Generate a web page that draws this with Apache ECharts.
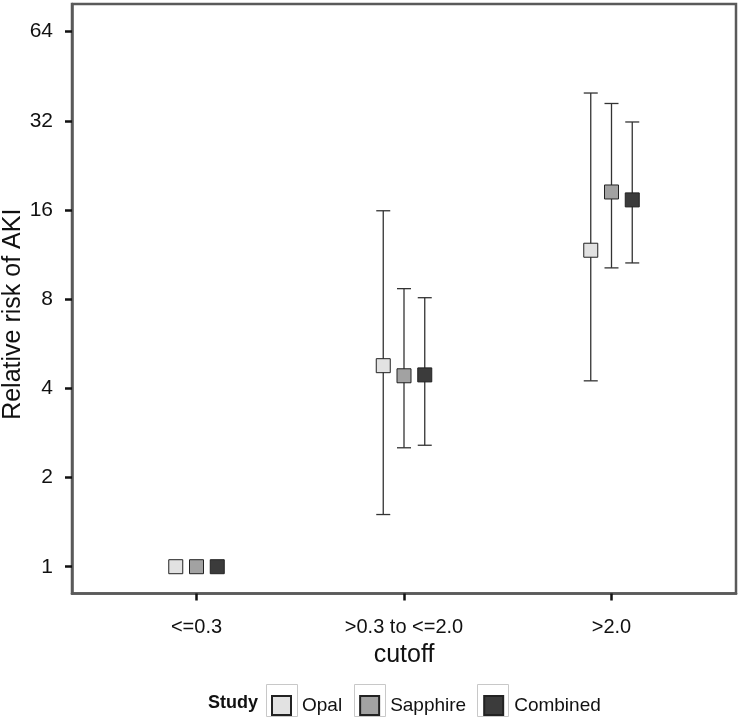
<!DOCTYPE html>
<html>
<head>
<meta charset="utf-8">
<title>Relative risk of AKI by cutoff</title>
<script src="https://cdn.jsdelivr.net/npm/echarts@6.0.0/dist/echarts.min.js"></script>
<style>
  html, body { margin: 0; padding: 0; background: #fff; }
  #main { width: 740px; height: 720px; }
</style>
</head>
<body>
<div id="main"></div>
<script>
// categories on the x axis
var cutoffs = ['<=0.3', '>0.3 to <=2.0', '>2.0'];
// y axis ticks (log2 scale)
var yTicks = [1, 2, 4, 8, 16, 32, 64];
var yMin = 0.812, yMax = 79.3;

var studies = ['Opal', 'Sapphire', 'Combined'];

// relative risk + 95% CI (null = no interval drawn)
var opalRR = [1, 4.77, 11.7];
var opalLo = [null, 1.50, 4.24];
var opalHi = [null, 15.9, 39.7];

var sapphireRR = [1, 4.41, 18.4];
var sapphireLo = [null, 2.52, 10.2];
var sapphireHi = [null, 8.68, 36.6];

var combinedRR = [1, 4.44, 17.3];
var combinedLo = [null, 2.57, 10.6];
var combinedHi = [null, 8.09, 31.7];

var colors = ['#e2e2e2', '#a2a2a2', '#3b3b3b'];
var offsets = [-0.1, 0, 0.1];   // dodge inside each cutoff group
var font = 'Liberation Sans, Arial, sans-serif';

function lg(v){ return Math.log(v) / Math.LN2; }

var rrs = [opalRR, sapphireRR, combinedRR];
var los = [opalLo, sapphireLo, combinedLo];
var his = [opalHi, sapphireHi, combinedHi];

// error bars: vertical line with caps
function renderBar(params, api){
    var top = api.coord([api.value(0), api.value(2)]);
    var bot = api.coord([api.value(0), api.value(1)]);
    var w = 7;
    var st = { stroke: '#333', lineWidth: 1.3 };
    return {
        type: 'group',
        children: [
            { type: 'line', shape: { x1: top[0], y1: top[1], x2: bot[0], y2: bot[1] }, style: st },
            { type: 'line', shape: { x1: top[0] - w, y1: top[1], x2: top[0] + w, y2: top[1] }, style: st },
            { type: 'line', shape: { x1: bot[0] - w, y1: bot[1], x2: bot[0] + w, y2: bot[1] }, style: st }
        ]
    };
}

var series = [];
for (var s = 0; s < studies.length; s++) {
    var bars = [], pts = [];
    for (var i = 0; i < cutoffs.length; i++) {
        if (los[s][i] != null) {
            bars.push([i + offsets[s], lg(los[s][i]), lg(his[s][i])]);
        }
        pts.push([i + offsets[s], lg(rrs[s][i])]);
    }
    series.push({
        name: studies[s] + ' CI',
        type: 'custom',
        renderItem: renderBar,
        data: bars,
        z: 2,
        silent: true
    });
    series.push({
        name: studies[s],
        type: 'scatter',
        symbol: 'rect',
        symbolSize: 14,
        itemStyle: { color: colors[s], borderColor: '#222', borderWidth: 1, opacity: 1 },
        data: pts,
        z: 3,
        emphasis: { disabled: true }
    });
}

var boxX = [266, 354, 477];   // light frames around legend swatches
var graphics = [{
    type: 'text', left: 208, top: 694,
    style: { text: 'Study', font: 'bold 18px ' + font, fill: '#111' }
}];
for (var b = 0; b < boxX.length; b++) {
    graphics.push({
        type: 'rect', left: boxX[b], top: 684, z: -1,
        shape: { width: 31, height: 32 },
        style: { fill: '#fff', stroke: '#c8c8c8', lineWidth: 1 }
    });
}

var option = {
    animation: false,
    textStyle: { fontFamily: font },
    grid: {
        left: 72, right: 4, top: 4, bottom: 126.5,
        show: true, borderColor: '#5a5a5a', borderWidth: 2.5,
        containLabel: false, outerBoundsMode: 'none'
    },
    xAxis: {
        type: 'value',
        min: -0.6, max: 2.6,
        name: 'cutoff',
        nameLocation: 'middle',
        nameGap: 49,
        nameMoveOverlap: false,
        nameTextStyle: { fontSize: 25, color: '#111' },
        axisLine: { show: true, onZero: false, lineStyle: { color: '#5a5a5a', width: 2.5 } },
        axisTick: { show: true, length: 7, customValues: [0, 1, 2], lineStyle: { color: '#111', width: 2.5 } },
        axisLabel: {
            customValues: [0, 1, 2],
            margin: 24, fontSize: 20, color: '#111',
            formatter: function (v) { return cutoffs[Math.round(v)]; }
        },
        splitLine: { show: false }
    },
    yAxis: {
        type: 'value',
        min: lg(yMin), max: lg(yMax),
        name: 'Relative risk of AKI',
        nameLocation: 'middle',
        nameRotate: 90,
        nameGap: 46,
        nameMoveOverlap: false,
        nameTextStyle: { fontSize: 25, color: '#111', padding: [0, 31, 0, 0] },
        axisLine: { show: true, onZero: false, lineStyle: { color: '#5a5a5a', width: 2.5 } },
        axisTick: { show: true, length: 7, customValues: yTicks.map(lg), lineStyle: { color: '#111', width: 2.5 } },
        axisLabel: {
            customValues: yTicks.map(lg),
            margin: 19, fontSize: 21, color: '#111',
            formatter: function (v) { return String(Math.round(Math.pow(2, v))); }
        },
        splitLine: { show: false }
    },
    legend: {
        data: studies,
        left: 266, top: 690,
        icon: 'path://M0,0L10,0L10,10L0,10Z',
        itemWidth: 31, itemHeight: 19,
        itemGap: 17,
        selectedMode: false,
        textStyle: { fontSize: 19, color: '#111' }
    },
    graphic: graphics,
    series: series
};

var myChart = echarts.init(document.getElementById('main'));
myChart.setOption(option);
</script>
</body>
</html>
